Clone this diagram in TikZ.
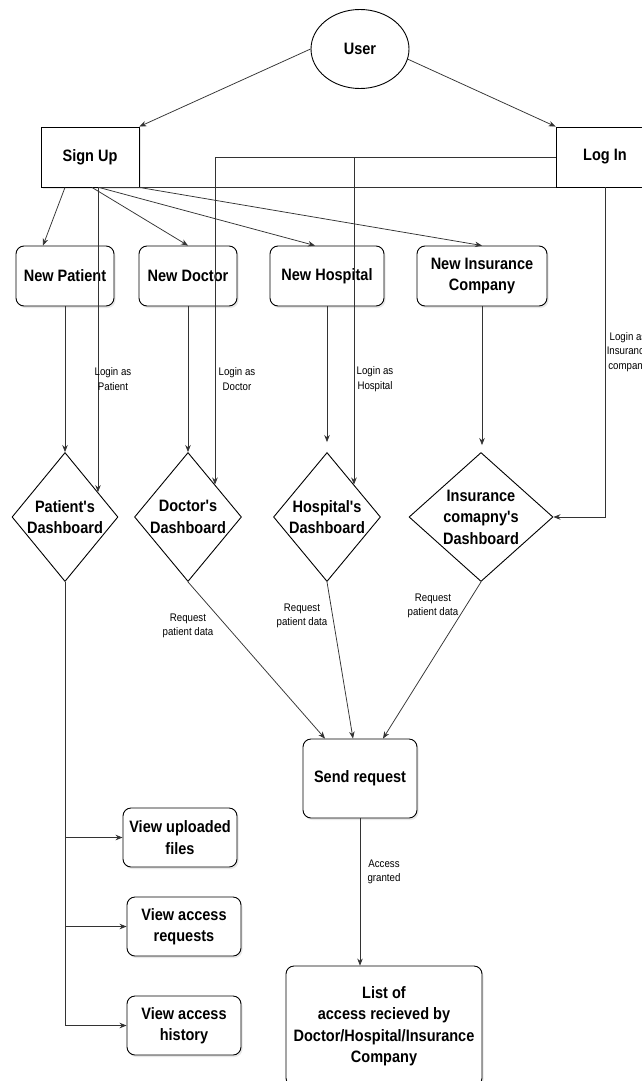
\documentclass[tikz,border=0pt]{standalone}
\usepackage{fontspec}
\newfontfamily\boxfont[FakeStretch=0.88]{Liberation Sans}
\usetikzlibrary{arrows.meta,shapes.geometric,shadows}

\begin{document}
\begin{tikzpicture}[
    x=1pt, y=-1pt,
    >={Stealth[length=7pt,width=5.5pt]},
    line/.style={->, line width=0.75pt, black!80},
    box/.style={draw, line width=0.9pt, minimum width=98pt, minimum height=60pt, inner sep=2pt,
        align=center, font=\boxfont\bfseries\fontsize{16.5}{21.5}\selectfont},
    rbox/.style={box, rounded corners=8pt, fill=white,
        drop shadow={shadow xshift=1.5pt, shadow yshift=-2pt, opacity=0.18}},
    dboard/.style={box, diamond, inner sep=-12pt, minimum width=107pt, minimum height=129pt},
    lbl/.style={align=center, inner sep=0pt, font=\boxfont\fontsize{11}{14.5}\selectfont}
]
\useasboundingbox (0,0) rectangle (642,1081);
\clip (0,0) rectangle (642,1081);
\fill[white] (0,0) rectangle (642,1081);

% user, sign up, log in
\node[box, ellipse, minimum width=98pt, minimum height=79pt] (user) at (360,49) {User};
\node[box, fill=white, drop shadow={shadow xshift=1.5pt, shadow yshift=-2pt, opacity=0.18}] (signup) at (90,157) {Sign Up};
\node[box, fill=white] (login) at (605,157) {Log In};

% new accounts
\node[rbox] (np) at (65,276) {New Patient};
\node[rbox] (nd) at (188,276) {New Doctor};
\node[rbox, minimum width=114pt] (nh) at (327,276) {New Hospital};
\node[rbox, minimum width=130pt] (ni) at (482,276) {New Insurance\\Company};

% dashboards
\node[dboard, minimum width=106pt] (pd) at (65,517) {Patient's\\Dashboard};
\node[dboard] (dd) at (188,517) {Doctor's\\Dashboard};
\node[dboard] (hd) at (327,517) {Hospital's\\Dashboard};
\node[dboard, minimum width=144pt] (id) at (481,517) {Insurance\\comapny's\\Dashboard};

% request and patient views
\node[rbox, minimum width=114pt, minimum height=79pt] (sr) at (360,778.5) {Send request};
\node[rbox, minimum width=114pt, minimum height=59pt] (vf) at (180,837.5) {View uploaded\\files};
\node[rbox, minimum width=114pt, minimum height=59pt] (vr) at (184,926.5) {View access\\requests};
\node[rbox, minimum width=114pt, minimum height=59pt] (vh) at (184,1025.5) {View access\\history};
\node[rbox, minimum width=196pt, minimum height=120pt] (lst) at (384,1026) {List of\\access recieved by\\Doctor/Hospital/Insurance\\Company};

% user to sign up / log in
\draw[line] (user.west) -- (signup.north east);
\draw[line] (user.-12) -- (login.north west);

% sign up to new accounts
\draw[line] ([xshift=-25pt]signup.south) -- ([xshift=-22pt]np.north);
\draw[line] ([xshift=2pt]signup.south) -- (nd.north);
\draw[line] ([xshift=9pt]signup.south) -- ([xshift=-12pt]nh.north);
\draw[line] (signup.south east) -- (ni.north);

% new accounts to dashboards
\draw[line] (np.south) -- (pd.north);
\draw[line] (nd.south) -- (dd.north);
\draw[line] (nh.south) -- ([yshift=10pt]hd.north);
\draw[line] (ni.south) -- ([yshift=7pt]ni.south |- id.north);

% log in to dashboards
\draw[line] (login.south west) -| (pd.37);
\draw[line] (login.west) -| (dd.north east);
\draw[line] (login.west) -| (hd.north east);
\draw[line] (login.south) |- (id.east);

\node[lbl] (lgp) at (113,379) {Login as\\Patient};
\node[lbl] (lgd) at (237,379) {Login as\\Doctor};
\node[lbl] (lgh) at (375,379) {Login as\\Hospital};
\node[lbl] (lgi) at (628,352) {Login as\\Insurance\\company};

% dashboards to send request
\draw[line] (dd.south) -- ([xshift=-35pt]sr.north);
\draw[line] (hd.south) -- ([xshift=-7pt]sr.north);
\draw[line] (id.south) -- ([xshift=23pt]sr.north);

\node[lbl] (rqd) at (188,626) {Request\\patient data};
\node[lbl] (rqh) at (302,616) {Request\\patient data};
\node[lbl] (rqi) at (433,606) {Request\\patient data};

% patient views
\draw[line] (pd.south) |- (vf.west);
\draw[line] (pd.south) |- (vr.west);
\draw[line] (pd.south) |- (vh.west);

% access granted
\draw[line] (sr.south) -- (sr.south |- lst.north);
\node[lbl] (acc) at (384,872) {Access\\granted};

\end{tikzpicture}
\end{document}
